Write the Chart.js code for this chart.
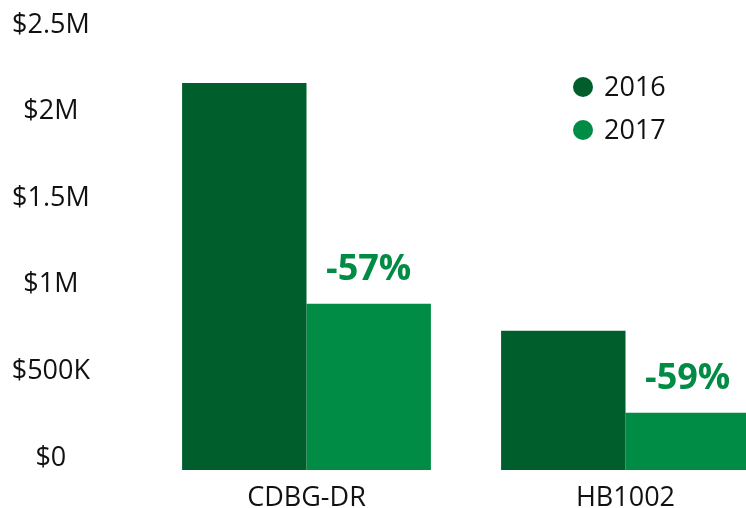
<!DOCTYPE html>
<html>
<head>
<meta charset="utf-8">
<script src="https://cdn.jsdelivr.net/npm/chart.js@4"></script>
<style>
  html, body { margin: 0; padding: 0; background: #fff; overflow: hidden; }
  /* the right bar runs past the window edge in the original, so the box is wider than the page */
  #wrap { width: 785px; height: 508px; }
</style>
</head>
<body>
<div id="wrap"><canvas id="grantChart"></canvas></div>
<script>
// categories and values
const programs = ['CDBG-DR', 'HB1002'];
const years = ['2016', '2017'];
const funds2016 = [2234000, 804000];
const funds2017 = [960000, 330000];
const changeLabels = ['-57%', '-59%'];
const yTicks = [0, 500000, 1000000, 1500000, 2000000, 2500000];

const darkGreen = '#005e2d';
const lightGreen = '#008c44';
const fontName = '"Open Sans", "Noto Sans", sans-serif';

function money(v) {
  if (v === 0) return '$0';
  if (v >= 1000000) return '$' + (v / 1000000) + 'M';
  return '$' + (v / 1000) + 'K';
}

// percentage change written above the 2017 bars
const changePlugin = {
  id: 'changeLabels',
  afterDatasetsDraw(chart) {
    const ctx = chart.ctx;
    const meta = chart.getDatasetMeta(1);
    ctx.save();
    ctx.font = 'bold 36px ' + fontName;
    ctx.fillStyle = lightGreen;
    ctx.textAlign = 'center';
    ctx.textBaseline = 'middle';
    meta.data.forEach((bar, i) => {
      ctx.fillText(changeLabels[i], bar.x, bar.y - 34);
    });
    ctx.restore();
  }
};

// small dot legend sitting inside the plot, top right
const dotLegend = {
  id: 'dotLegend',
  afterDraw(chart) {
    const ctx = chart.ctx;
    ctx.save();
    ctx.font = '27px ' + fontName;
    ctx.textBaseline = 'middle';
    chart.data.datasets.forEach((ds, i) => {
      const y = 87 + i * 43;
      ctx.fillStyle = ds.backgroundColor;
      ctx.beginPath();
      ctx.arc(583, y, 10, 0, Math.PI * 2);
      ctx.fill();
      ctx.fillStyle = '#111';
      ctx.fillText(ds.label, 604, y + 1);
    });
    ctx.restore();
  }
};

const ctx = document.getElementById('grantChart').getContext('2d');
new Chart(ctx, {
  type: 'bar',
  data: {
    labels: programs,
    datasets: [
      { label: years[0], data: funds2016, backgroundColor: darkGreen },
      { label: years[1], data: funds2017, backgroundColor: lightGreen }
    ]
  },
  options: {
    responsive: true,
    maintainAspectRatio: false,
    animation: false,
    layout: { padding: { top: 37, right: 0, bottom: -19, left: 0 } },
    datasets: { bar: { categoryPercentage: 0.78, barPercentage: 1.0 } },
    plugins: {
      legend: { display: false },
      tooltip: { enabled: false }
    },
    scales: {
      x: {
        grid: { display: false, drawTicks: false },
        border: { display: false },
        ticks: {
          color: '#111',
          font: { family: fontName, size: 27, lineHeight: 1.0 },
          padding: 15,
          autoSkip: false,
          maxRotation: 0
        },
        afterFit(scale) {
          scale.paddingLeft = 0;
          scale.paddingRight = 0;
        }
      },
      y: {
        min: 0,
        max: 2500000,
        afterBuildTicks(scale) { scale.ticks = yTicks.map(v => ({ value: v })); },
        grid: { display: false, drawTicks: false },
        border: { display: false },
        ticks: {
          color: '#111',
          font: { family: fontName, size: 27 },
          crossAlign: 'center',
          padding: 57,
          labelOffset: -12,
          callback: v => money(v)
        },
        afterFit(scale) {
          scale.width = 147;
          scale.paddingTop = 0;
          scale.paddingBottom = 0;
        }
      }
    }
  },
  plugins: [changePlugin, dotLegend]
});
</script>
</body>
</html>
